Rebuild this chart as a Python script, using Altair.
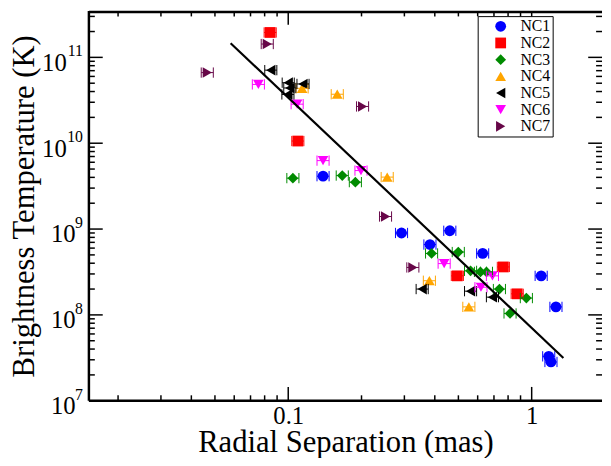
import altair as alt
import pandas as pd

# ---------------- data ----------------
series = ["NC1", "NC2", "NC3", "NC4", "NC5", "NC6", "NC7"]
colors = ["#0000ff", "#ff0000", "#008b00", "#ffa500", "#000000", "#ff00ff", "#670748"]
shapes = ["circle", "square", "diamond", "triangle-up", "triangle-left", "triangle-down", "triangle-right"]
sizes = [120, 115, 150, 150, 150, 150, 150]

nc1_x = [0.139, 0.292, 0.461, 0.382, 0.629, 1.094, 1.258, 1.175, 1.20]
nc1_y = [4.13e9, 9.0e8, 9.55e8, 6.6e8, 5.2e8, 2.85e8, 1.24e8, 3.29e7, 2.83e7]
nc2_x = [0.0843, 0.1095, 0.495, 0.765, 0.872]
nc2_y = [1.95e11, 1.06e10, 2.85e8, 3.62e8, 1.76e8]
nc3_x = [0.1045, 0.1667, 0.1887, 0.388, 0.4995, 0.561, 0.616, 0.652, 0.737, 0.951, 0.815]
nc3_y = [3.92e9, 4.2e9, 3.52e9, 5.2e8, 5.4e8, 3.26e8, 3.17e8, 3.17e8, 2.0e8, 1.57e8, 1.04e8]
nc4_x = [0.114, 0.159, 0.255, 0.380, 0.552]
nc4_y = [4.36e10, 3.72e10, 4.03e9, 2.5e8, 1.24e8]
nc5_x = [0.0848, 0.1, 0.115, 0.1015, 0.0997, 0.355, 0.561, 0.690]
nc5_y = [7.1e10, 5.07e10, 4.9e10, 4.4e10, 3.7e10, 2.0e8, 1.89e8, 1.61e8]
nc6_x = [0.0754, 0.1088, 0.139, 0.199, 0.437, 0.690, 0.619]
nc6_y = [4.84e10, 2.85e10, 6.27e9, 4.8e9, 3.96e8, 2.85e8, 2.1e8]
nc7_x = [0.0465, 0.082, 0.202, 0.251, 0.325]
nc7_y = [6.65e10, 1.43e11, 2.68e10, 1.4e9, 3.57e8]

fit_x = [0.058, 1.35]
fit_y = [1.46e11, 3.15e7]

x_major = [0.1, 1]
x_minor = [0.02, 0.03, 0.04, 0.05, 0.06, 0.07, 0.08, 0.09,
           0.2, 0.3, 0.4, 0.5, 0.6, 0.7, 0.8, 0.9]
y_major = [1e7, 1e8, 1e9, 1e10, 1e11]
y_exp = ["7", "8", "9", "10", "11"]
y_base = ["10", "10", "10", "10", "10"]
y_minor = [m * 10 ** e for e in range(7, 11) for m in range(2, 10)] + [2e11, 3e11]

x_title = "Radial Separation (mas)"
y_title = "Brightness Temperature (K)"

# ---------------- build ----------------
xs = [nc1_x, nc2_x, nc3_x, nc4_x, nc5_x, nc6_x, nc7_x]
ys = [nc1_y, nc2_y, nc3_y, nc4_y, nc5_y, nc6_y, nc7_y]
rows = []
for name, sx, sy in zip(series, xs, ys):
    for a, b in zip(sx, sy):
        rows.append({"series": name, "x": a, "y": b})
df = pd.DataFrame(rows)

FONT = "Liberation Serif"
W, H = 520, 395

xscale = alt.Scale(type="log", domain=[0.01518, 1.945], nice=False)
yscale = alt.Scale(type="log", domain=[1e7, 3.47e11], nice=False)

xaxis = alt.Axis(values=x_major, format="~g", labelFont=FONT, labelFontSize=25,
                 labelColor="black", labelPadding=3.5, ticks=False, domain=False,
                 grid=False, labelOverlap=False, labelFlush=False,
                 title=x_title, titleFont=FONT, titleFontSize=31,
                 titleFontWeight="normal", titleColor="black",
                 titleY=51.5, titleBaseline="alphabetic")
yaxis = alt.Axis(labels=False, ticks=False, domain=False, grid=False,
                 title=y_title, titleFont=FONT, titleFontSize=31,
                 titleFontWeight="normal", titleColor="black",
                 titleX=-56.5, titleY=197.5, titleAngle=270,
                 titleBaseline="alphabetic", titleAlign="center")

leg = alt.Legend(title=None, orient="none", legendX=394, legendY=5.2,
                 padding=2.3, strokeColor="black", fillColor="white",
                 labelFont=FONT, labelFontSize=16, labelColor="black",
                 symbolSize=100, symbolOffset=13, labelOffset=12,
                 rowPadding=0.9, symbolStrokeWidth=0, symbolOpacity=1)

cscale = alt.Scale(domain=series, range=colors)

X = lambda f: alt.X(f, scale=xscale, axis=xaxis, title=x_title)
Y = lambda f: alt.Y(f, scale=yscale, axis=yaxis, title=y_title)

pts = alt.Chart(df).mark_point(filled=True, opacity=1, strokeWidth=0).encode(
    x=X("x:Q"),
    y=Y("y:Q"),
    color=alt.Color("series:N", scale=cscale, legend=leg),
    shape=alt.Shape("series:N", scale=alt.Scale(domain=series, range=shapes), legend=leg),
    size=alt.Size("series:N", scale=alt.Scale(domain=series, range=sizes), legend=None),
)

EB = "M-1,-0.85L-1,0.85M-1,0L1,0M1,-0.85L1,0.85"
eb = alt.Chart(df).mark_point(shape=EB, filled=False, strokeWidth=1, size=150, opacity=1).encode(
    x=X("x:Q"),
    y=Y("y:Q"),
    color=alt.Color("series:N", scale=cscale, legend=None),
)

fit = alt.Chart(pd.DataFrame({"x": fit_x, "y": fit_y})).mark_line(
    color="black", strokeWidth=2.2).encode(
    x=X("x:Q"),
    y=Y("y:Q"),
)

def xticks(vals, length):
    d = pd.DataFrame({"x": vals})
    b = alt.Chart(d).mark_rule(color="black", strokeWidth=1.5).encode(
        x=X("x:Q"), y=alt.value(H), y2=alt.value(H - length))
    t = alt.Chart(d).mark_rule(color="black", strokeWidth=1.5).encode(
        x=X("x:Q"), y=alt.value(0), y2=alt.value(length))
    return [b, t]

def yticks(vals, length):
    d = pd.DataFrame({"y": vals})
    l = alt.Chart(d).mark_rule(color="black", strokeWidth=1.5).encode(
        y=Y("y:Q"), x=alt.value(0), x2=alt.value(length))
    r = alt.Chart(d).mark_rule(color="black", strokeWidth=1.5).encode(
        y=Y("y:Q"), x=alt.value(W), x2=alt.value(W - length))
    return [l, r]

ticks = xticks(x_major, 14) + xticks(x_minor, 5.5) + yticks(y_major, 14) + yticks(y_minor, 6)

fdf = pd.DataFrame({"k": [0]})
frame = [
    alt.Chart(fdf).mark_rule(color="black", strokeWidth=2.5).encode(
        x=alt.value(0), y=alt.value(0), y2=alt.value(H)),
    alt.Chart(fdf).mark_rule(color="black", strokeWidth=2.5).encode(
        x=alt.value(0), x2=alt.value(W), y=alt.value(H)),
    alt.Chart(fdf).mark_rule(color="black", strokeWidth=2.5).encode(
        x=alt.value(0), x2=alt.value(W), y=alt.value(1)),
]

labdf = pd.DataFrame({"y": y_major, "e": y_exp, "b": y_base})
lab_base1 = alt.Chart(labdf).transform_filter("length(datum.e) == 1").mark_text(
    font=FONT, fontSize=25, align="right", baseline="alphabetic", dy=13.5, color="black").encode(
    x=alt.value(-13.5), y=Y("y:Q"), text="b:N")
lab_base2 = alt.Chart(labdf).transform_filter("length(datum.e) == 2").mark_text(
    font=FONT, fontSize=25, align="right", baseline="alphabetic", dy=13.5, color="black").encode(
    x=alt.value(-22.5), y=Y("y:Q"), text="b:N")
lab_exp = alt.Chart(labdf).mark_text(
    font=FONT, fontSize=16, align="right", baseline="alphabetic", dy=-1, color="black").encode(
    x=alt.value(-6), y=Y("y:Q"), text="e:N")

chart = alt.layer(pts, eb, fit, *ticks, *frame, lab_base1, lab_base2, lab_exp).properties(
    width=W, height=H,
    autosize=alt.AutoSizeParams(type="none"),
    padding={"left": 82, "top": 0, "right": 1, "bottom": 55},
).configure_view(strokeWidth=0)

chart.save("out.html", embed_options={"renderer": "svg", "actions": False})
